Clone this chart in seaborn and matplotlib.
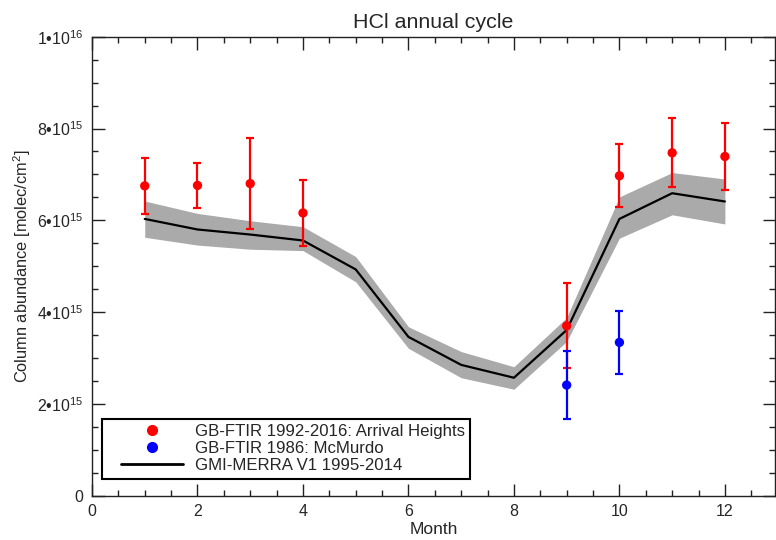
import matplotlib
matplotlib.use("Agg")
import matplotlib.pyplot as plt
import numpy as np
import pandas as pd
import seaborn as sns
from matplotlib.lines import Line2D
from matplotlib.patches import Rectangle
from matplotlib.ticker import MultipleLocator

# --- データ（図から読み取り、単位 1e15 molec/cm2） ---
months = [1, 2, 3, 4, 5, 6, 7, 8, 9, 10, 11, 12]
model_mean = [6.03, 5.80, 5.69, 5.56, 4.93, 3.46, 2.85, 2.57, 3.61, 6.03, 6.59, 6.41]
model_hi = [6.42, 6.15, 5.99, 5.86, 5.21, 3.68, 3.14, 2.81, 3.88, 6.51, 7.04, 6.90]
model_lo = [5.63, 5.46, 5.37, 5.34, 4.66, 3.21, 2.57, 2.32, 3.36, 5.61, 6.12, 5.92]

ah_months = [1, 2, 3, 4, 9, 10, 11, 12]
ah_mean = [6.75, 6.76, 6.80, 6.16, 3.70, 6.97, 7.47, 7.39]
ah_hi = [7.36, 7.24, 7.80, 6.87, 4.63, 7.66, 8.22, 8.13]
ah_lo = [6.13, 6.27, 5.80, 5.45, 2.79, 6.29, 6.73, 6.65]

mcm_months = [9, 10]
mcm_mean = [2.41, 3.34]
mcm_hi = [3.15, 4.03]
mcm_lo = [1.68, 2.66]

yticks = [0, 2, 4, 6, 8, 10]
ytick_labels = ["0", r"$2{•}10^{15}$", r"$4{•}10^{15}$", r"$6{•}10^{15}$",
                r"$8{•}10^{15}$", r"$1{•}10^{16}$"]

labels = ["GB-FTIR 1992-2016: Arrival Heights", "GB-FTIR 1986: McMurdo",
          "GMI-MERRA V1 1995-2014"]

sns.set_theme(style="ticks")
plt.rcParams["font.family"] = ["Liberation Sans", "DejaVu Sans"]
plt.rcParams["mathtext.fontset"] = "custom"
plt.rcParams["mathtext.rm"] = "Liberation Sans"
plt.rcParams["mathtext.it"] = "Liberation Sans"
plt.rcParams["mathtext.default"] = "regular"

fig = plt.figure(figsize=(7.76, 5.40), dpi=100)
ax = fig.add_axes([92 / 776, 1 - 495.7 / 540, 683 / 776, 459 / 540])

model = pd.DataFrame({"month": months, "mean": model_mean, "hi": model_hi, "lo": model_lo})
ax.fill_between(model["month"], model["lo"], model["hi"], color="#aaaaaa", lw=0, zorder=1)
sns.lineplot(data=model, x="month", y="mean", color="black", lw=1.6, ax=ax, zorder=2)

for m, v, hi, lo, col in [(ah_months, ah_mean, ah_hi, ah_lo, "red"),
                          (mcm_months, mcm_mean, mcm_hi, mcm_lo, "blue")]:
    v = np.array(v)
    yerr = [v - np.array(lo), np.array(hi) - v]
    ax.errorbar(m, v, yerr=yerr, fmt="none", ecolor=col, elinewidth=1.6,
                capsize=2.8, capthick=1.6, zorder=3)
    sns.scatterplot(x=m, y=v, color=col, s=45, edgecolor="none", ax=ax, zorder=4)

ax.set_xlim(0, 12.95)
ax.set_ylim(0, 10)
ax.xaxis.set_major_locator(MultipleLocator(2))
ax.xaxis.set_minor_locator(MultipleLocator(0.5))
ax.set_yticks(yticks)
ax.set_yticklabels(ytick_labels)
ax.yaxis.set_minor_locator(MultipleLocator(0.5))
ax.tick_params(which="both", direction="in", top=True, right=True, width=1.0,
               color="#222222", labelsize=11.5)
ax.tick_params(which="major", length=9, pad=6)
ax.tick_params(which="minor", length=4.5)
for s in ax.spines.values():
    s.set_linewidth(1.0)
    s.set_color("#222222")

ax.set_xlabel("Month", fontsize=12.5, labelpad=2)
ax.set_ylabel(r"Column abundance [molec/cm$^2$]", fontsize=11.8, labelpad=3)
ax.set_title("HCl annual cycle", fontsize=15.4, pad=6)

# 凡例（枠は手前の余白を広めに取りたいので別に描く）
handles = [Line2D([], [], ls="none", marker="o", color="red", markersize=7),
           Line2D([], [], ls="none", marker="o", color="blue", markersize=7),
           Line2D([], [], color="black", lw=2)]
leg = ax.legend(handles, labels, loc="lower left", bbox_to_anchor=(0.04, 0.045),
                borderaxespad=0, fontsize=12.1, handlelength=3.7, handletextpad=0.7,
                labelspacing=0.14, borderpad=0.1, frameon=False)
fig.canvas.draw()
bb = leg.get_window_extent().transformed(ax.transAxes.inverted())
px = 1 / 683
py = 1 / 459
ax.add_patch(Rectangle((bb.x0 - 17 * px, bb.y0 - 4 * py),
                       bb.width + 20 * px, bb.height + 7 * py,
                       transform=ax.transAxes, fill=False, ec="black", lw=1.5,
                       zorder=5, clip_on=False))

fig.savefig("out.png", dpi=100)
